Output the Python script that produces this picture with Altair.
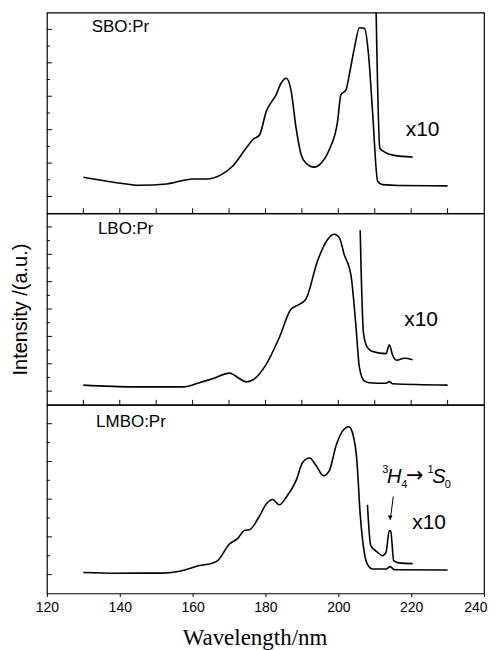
import altair as alt
import pandas as pd

# ---------------- data ----------------
x_tick_values = [120, 130, 140, 150, 160, 170, 180, 190, 200, 210, 220, 230, 240]
x_inner_ticks = [130, 140, 150, 160, 170, 180, 190, 200, 210, 220, 230]

# SBO:Pr
sbo_wl = [130, 141.8, 145.5, 152.8, 160.1, 163.7, 167.9, 171.1, 174.7, 176.5, 178.4, 180.2,
          182.9, 184.3, 185.7, 187.0, 188.4, 189.8, 191.1, 193.4, 194.8, 197.5, 199.8, 200.7,
          202.1, 203.0, 204.4, 205.8, 207.2, 208.3, 209.4, 210.8, 212.1, 216.7, 230]
sbo_int = [0.575, 0.375, 0.336, 0.375, 0.524, 0.524, 0.655, 0.92, 1.45, 1.7, 1.85, 2.54,
           3.04, 3.39, 3.54, 3.19, 2.05, 1.25, 1.0, 0.88, 0.95, 1.4, 2.25, 3.04,
           3.19, 3.64, 4.43, 5.05, 5.03, 4.24, 2.54, 0.455, 0.357, 0.33, 0.32]
sbo10_wl = [210.3, 211.4, 212.1, 215.3, 220.4]
sbo10_int = [6.0, 1.45, 1.37, 1.23, 1.18]

# LBO:Pr
lbo_wl = [130, 143.7, 157.4, 161.9, 165.6, 170.2, 172.4, 174.7, 176.5, 180.2, 183.8, 187.0,
          189.3, 191.1, 194.3, 197.1, 198.9, 200.3, 201.6, 203.5, 204.8, 205.8, 207.1, 208.5,
          213.1, 214.0, 214.9, 230]
lbo_int = [0.22, 0.157, 0.157, 0.31, 0.46, 0.66, 0.5, 0.34, 0.41, 0.98, 1.96, 2.99,
           3.17, 3.36, 4.76, 5.55, 5.73, 5.6, 5.0, 4.21, 2.44, 0.86, 0.376, 0.31,
           0.29, 0.35, 0.27, 0.22]
lbo10_wl = [206.0, 206.9, 208.0, 209.4, 213.1, 214.0, 214.9, 216.0, 218.1, 220.4]
lbo10_int = [5.88, 2.14, 1.59, 1.45, 1.37, 1.69, 1.32, 1.13, 1.2, 1.15]

# LMBO:Pr
lmbo_wl = [130, 139.1, 151.0, 156.4, 161.9, 165.6, 166.9, 170.1, 172.4, 174.2, 175.6, 178.4,
           180.2, 182.0, 183.8, 185.7, 188.4, 190.2, 192.1, 193.9, 195.9, 197.5, 199.4, 201.2,
           202.9, 204.0, 205.1, 206.0, 207.2, 208.0, 209.4, 213.1, 214.2, 215.4, 230]
lmbo_int = [0.056, 0.037, 0.04, 0.09, 0.24, 0.31, 0.37, 0.81, 0.96, 1.17, 1.19, 1.56,
            1.87, 1.99, 1.85, 2.05, 2.49, 2.97, 3.09, 2.89, 2.62, 2.75, 3.42, 3.81,
            3.92, 3.72, 3.02, 1.61, 0.55, 0.27, 0.15, 0.15, 0.21, 0.13, 0.12]
lmbo10_wl = [208.0, 208.9, 210.8, 212.1, 213.1, 214.0, 214.4, 215.2, 216.7, 220.4]
lmbo10_int = [1.85, 0.77, 0.59, 0.5, 0.59, 1.17, 1.15, 0.37, 0.31, 0.29]

# annotation pieces for 3H4 -> 1S0 (text, wavelength, intensity, size, italic, font)
ann_text = ["3", "H", "4", "\u2192", "1", "S", "0"]
ann_wl = [212.05, 213.4, 217.3, 218.6, 224.5, 225.8, 229.2]
ann_int = [2.70, 2.44, 2.30, 2.62, 2.70, 2.44, 2.30]
ann_size = [11, 20, 11, 21, 11, 20, 11]
ann_style = ["normal", "italic", "normal", "normal", "normal", "italic", "normal"]
ann_base = ["alphabetic", "alphabetic", "alphabetic", "middle", "alphabetic", "alphabetic", "alphabetic"]
ann_font = ["Liberation Sans", "Liberation Sans", "Liberation Sans", "DejaVu Sans",
            "Liberation Sans", "Liberation Sans", "Liberation Sans"]
arrow_wl = [215.1, 214.25]
arrow_int = [2.07, 1.45]

FONT = "Liberation Sans"
xscale = alt.Scale(domain=[120, 240], nice=False, zero=False)


def panel(wl, it, wl10, it10, label, ymax, height, bottom=False, ytitle=None,
          x10_pos=(221.0, 2.0), label_pos=(132.3, 5.0), extra=None):
    yscale = alt.Scale(domain=[-0.5, ymax + 0.5], nice=False, zero=False)
    main = pd.DataFrame({"wl": wl, "v": it})
    ten = pd.DataFrame({"wl": wl10, "v": it10})
    if bottom:
        xax = alt.Axis(values=x_tick_values, labelExpr="datum.value % 20 == 0 ? datum.label : ''",
                       title="Wavelength/nm", titleFont="Liberation Serif", titleFontSize=23,
                       titleFontWeight="normal", titleColor="black", titlePadding=12,
                       titleX=208, titleAlign="center",
                       labelFont=FONT, labelFontSize=14, labelColor="black", labelPadding=4,
                       labelAlign={"condition": {"test": "datum.value == 240", "value": "right"},
                                   "value": "center"},
                       labelOffset={"condition": {"test": "datum.value == 240", "value": 3},
                                    "value": 0},
                       tickSize=3, tickColor="black", domain=False, grid=False, labelFlush=False,
                       labelOverlap=False)
    else:
        xax = None
    yax = alt.Axis(labels=False, ticks=False, domain=False, grid=False,
                   title=ytitle if ytitle else "", titleFont=FONT, titleFontSize=20,
                   titleFontWeight="normal", titleColor="black", titlePadding=16)
    x_enc = alt.X("wl:Q", scale=xscale, axis=xax)
    line = alt.Chart(main).mark_line(color="black", strokeWidth=1.6, interpolate="monotone").encode(
        x=x_enc, y=alt.Y("v:Q", scale=yscale, axis=yax))
    line10 = alt.Chart(ten).mark_line(color="black", strokeWidth=1.6, interpolate="monotone",
                                      clip=True).encode(
        x=alt.X("wl:Q", scale=xscale), y=alt.Y("v:Q", scale=yscale))
    major = pd.DataFrame({"v": list(range(0, ymax + 1))})
    minor = pd.DataFrame({"v": [i + 0.5 for i in range(0, ymax)]})
    ymaj = alt.Chart(major).mark_rule(color="black", strokeWidth=1).encode(
        y=alt.Y("v:Q", scale=yscale), x=alt.value(0), x2=alt.value(5))
    ymin = alt.Chart(minor).mark_rule(color="black", strokeWidth=1).encode(
        y=alt.Y("v:Q", scale=yscale), x=alt.value(0), x2=alt.value(3))
    layers = [line, line10, ymaj, ymin]
    if not bottom:
        xt = pd.DataFrame({"wl": x_inner_ticks})
        layers.append(alt.Chart(xt).mark_rule(color="black", strokeWidth=1).encode(
            x=alt.X("wl:Q", scale=xscale), y=alt.value(height), y2=alt.value(height - 5)))
    lab = pd.DataFrame({"wl": [label_pos[0]], "v": [label_pos[1]], "t": [label]})
    layers.append(alt.Chart(lab).mark_text(font=FONT, fontSize=17, align="left", baseline="top",
                                           color="black").encode(
        x=alt.X("wl:Q", scale=xscale), y=alt.Y("v:Q", scale=yscale), text="t:N"))
    xl = pd.DataFrame({"wl": [x10_pos[0]], "v": [x10_pos[1]], "t": ["x10"]})
    layers.append(alt.Chart(xl).mark_text(font=FONT, fontSize=21, align="left", baseline="middle",
                                          color="black").encode(
        x=alt.X("wl:Q", scale=xscale), y=alt.Y("v:Q", scale=yscale), text="t:N"))
    if extra:
        layers.extend(extra(yscale))
    return alt.layer(*layers).properties(width=438, height=height)


def lmbo_extra(yscale):
    out = []
    for t, w, v, s, st, b, f in zip(ann_text, ann_wl, ann_int, ann_size, ann_style, ann_base, ann_font):
        d = pd.DataFrame({"wl": [w], "v": [v], "t": [t]})
        out.append(alt.Chart(d).mark_text(font=f, fontSize=s, fontStyle=st, align="left",
                                          baseline=b, color="black").encode(
            x=alt.X("wl:Q", scale=xscale), y=alt.Y("v:Q", scale=yscale), text="t:N"))
    ar = pd.DataFrame({"wl": arrow_wl, "v": arrow_int})
    out.append(alt.Chart(ar).mark_line(color="black", strokeWidth=1).encode(
        x=alt.X("wl:Q", scale=xscale), y=alt.Y("v:Q", scale=yscale)))
    tip = pd.DataFrame({"wl": [arrow_wl[1]], "v": [arrow_int[1] + 0.06]})
    out.append(alt.Chart(tip).mark_point(shape="triangle-down", filled=True, color="black",
                                         size=22, opacity=1).encode(
        x=alt.X("wl:Q", scale=xscale), y=alt.Y("v:Q", scale=yscale)))
    return out


p1 = panel(sbo_wl, sbo_int, sbo10_wl, sbo10_int, "SBO:Pr", 5, 201,
           x10_pos=(218.5, 2.0), label_pos=(132.3, 5.3))
p2 = panel(lbo_wl, lbo_int, lbo10_wl, lbo10_int, "LBO:Pr", 6, 192, ytitle="Intensity /(a.u.)",
           x10_pos=(218.1, 2.6), label_pos=(134.0, 6.2))
p3 = panel(lmbo_wl, lmbo_int, lmbo10_wl, lmbo10_int, "LMBO:Pr", 4, 189, bottom=True,
           x10_pos=(220.3, 1.38), label_pos=(133.5, 4.25), extra=lmbo_extra)

chart = alt.vconcat(p1, p2, p3, spacing=0, bounds="flush").properties(
    padding={"left": 2, "top": 3, "right": 0, "bottom": 0}
).configure_view(stroke="black", strokeWidth=1.2).configure_concat(spacing=0)

chart.save("out.html", embed_options={"renderer": "svg", "actions": False})
